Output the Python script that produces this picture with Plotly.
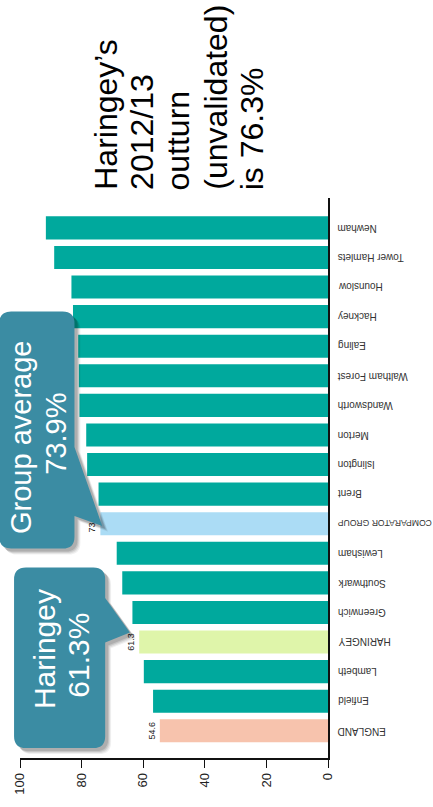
import plotly.graph_objects as go

# Boroughs, top to bottom
boroughs = ["Newham", "Tower Hamlets", "Hounslow", "Hackney", "Ealing",
            "Waltham Forest", "Wandsworth", "Merton", "Islington", "Brent",
            "COMPARATOR GROUP", "Lewisham", "Southwark", "Greenwich",
            "HARINGEY", "Lambeth", "Enfield", "ENGLAND"]
values = [91.6, 88.9, 83.3, 82.8, 81.1, 80.9, 80.7, 78.5, 78.2, 74.5,
          73.9, 68.6, 66.8, 63.5, 61.3, 59.8, 56.8, 54.6]
labelled = ["COMPARATOR GROUP", "HARINGEY", "ENGLAND"]
x_ticks = [0, 20, 40, 60, 80, 100]

TEAL = "#00a99d"
special_colors = {"COMPARATOR GROUP": "#abdcf5",
                  "HARINGEY": "#dff5aa",
                  "ENGLAND": "#f7c3ad"}
bar_colors = [special_colors.get(b, TEAL) for b in boroughs]
bar_text = [f"{v}" if b in labelled else "" for b, v in zip(boroughs, values)]

W, H = 433, 807
L, R, T, B = 17, 105, 198, 42
PW, PH = W - L - R, H - T - B


def px(x):
    return (x - L) / PW


def py(y):
    return (H - B - y) / PH


fig = go.Figure(go.Bar(
    x=values, y=boroughs, orientation="h",
    marker=dict(color=bar_colors, line=dict(width=0)),
    width=0.78,
    text=bar_text, textposition="outside", textangle=-90,
    cliponaxis=False, constraintext="none",
    textfont=dict(family="Arial", size=9, color="#222222"),
))

fig.update_xaxes(
    range=[100, 0], tickvals=x_ticks, ticktext=[str(t) for t in x_ticks],
    ticks="outside", ticklen=8, tickcolor="#111111", tickwidth=1,
    showline=True, linecolor="#111111", linewidth=1.5,
    tickangle=-90, tickfont=dict(family="Arial", size=13, color="#222222"),
    showgrid=False, zeroline=False, fixedrange=True,
)
fig.update_yaxes(
    type="category", categoryorder="array", categoryarray=boroughs,
    range=[17.92, -1.01], side="right",
    showline=True, linecolor="#111111", linewidth=1.5,
    ticks="", showticklabels=False,
    showgrid=False, zeroline=False, fixedrange=True,
)


def rounded_box_with_tail(x0, y0, x1, y1, r, tail):
    """SVG path (paper coords) for a rounded box whose right edge has a pointer."""
    (ty0, tipx, tipy, ty1) = tail
    pts = [
        f"M {px(x0 + r)},{py(y0)}",
        f"L {px(x1 - r)},{py(y0)}",
        f"Q {px(x1)},{py(y0)} {px(x1)},{py(y0 + r)}",
        f"L {px(x1)},{py(ty0)}",
        f"L {px(tipx)},{py(tipy)}",
        f"L {px(x1)},{py(ty1)}",
        f"L {px(x1)},{py(y1 - r)}",
        f"Q {px(x1)},{py(y1)} {px(x1 - r)},{py(y1)}",
        f"L {px(x0 + r)},{py(y1)}",
        f"Q {px(x0)},{py(y1)} {px(x0)},{py(y1 - r)}",
        f"L {px(x0)},{py(y0 + r)}",
        f"Q {px(x0)},{py(y0)} {px(x0 + r)},{py(y0)}",
        "Z",
    ]
    return " ".join(pts)


CALLOUT = "#3b8ca3"
callouts = [
    # box x0, y0, x1, y1, radius, (tail start y, tip x, tip y, tail end y)
    (-4, 313, 72, 553, 12, (450, 100, 530, 520)),
    (11, 572, 103, 755, 12, (603, 128, 638, 648)),
]
shapes = []
for (x0, y0, x1, y1, r, (a, tx, ty, b)) in callouts:
    for off, alpha in [(6, 0.06), (5, 0.08), (4, 0.10), (3, 0.12)]:
        shapes.append(dict(
            type="path", xref="paper", yref="paper", layer="above",
            path=rounded_box_with_tail(x0 + off, y0 + off, x1 + off, y1 + off,
                                       r, (a + off, tx + off, ty + off, b + off)),
            fillcolor=f"rgba(0,0,0,{alpha})", line=dict(width=0),
        ))
    shapes.append(dict(
        type="path", xref="paper", yref="paper", layer="above",
        path=rounded_box_with_tail(x0, y0, x1, y1, r, (a, tx, ty, b)),
        fillcolor=CALLOUT, line=dict(width=0),
    ))

annotations = []

# Category names on the right of the axis, printed upside down
for name in boroughs:
    size = 8.6 if len(name) > 14 else 10
    annotations.append(dict(
        text=name, xref="paper", yref="y", x=px(336), y=name,
        xanchor="left", yanchor="middle", textangle=180, showarrow=False,
        font=dict(family="Arial", size=size, color="#333333"),
    ))


def text_line(txt, xc, y_start, size, color):
    annotations.append(dict(
        text=txt, xref="paper", yref="paper", x=px(xc), y=py(y_start),
        xanchor="center", yanchor="bottom", textangle=-90, showarrow=False,
        font=dict(family="Arial", size=size, color=color),
    ))


def text_centered(txt, xc, yc, size, color):
    annotations.append(dict(
        text=txt, xref="paper", yref="paper", x=px(xc), y=py(yc),
        xanchor="center", yanchor="middle", textangle=-90, showarrow=False,
        font=dict(family="Arial", size=size, color=color),
    ))


# Headline beside the chart, one line per column
for i, line in enumerate(["Haringey’s", "2012/13", "outturn",
                          "(unvalidated)", "is 76.3%"]):
    text_line(line, 103 + 37 * i, 192, 32, "#000000")

# Callout captions
text_centered("Group average", 18, 440, 29, "#ffffff")
text_centered("73.9%", 53, 437, 29, "#ffffff")
text_centered("Haringey", 42, 655, 30, "#ffffff")
text_centered("61.3%", 76, 661, 30, "#ffffff")

fig.update_layout(
    width=W, height=H,
    margin=dict(l=L, r=R, t=T, b=B),
    paper_bgcolor="white", plot_bgcolor="white",
    showlegend=False, bargap=0.22,
    shapes=shapes, annotations=annotations,
)

fig.write_html("out.html", include_plotlyjs=True, full_html=True,
               config={"displayModeBar": False})
